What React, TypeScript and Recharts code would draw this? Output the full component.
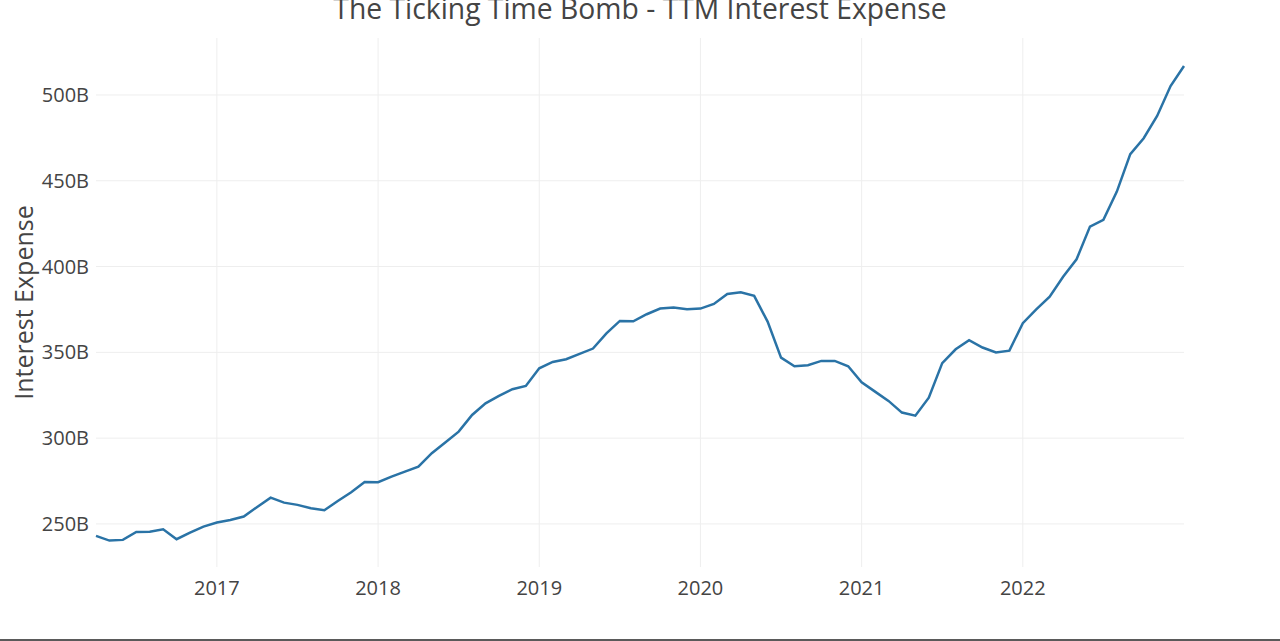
import { LineChart, Line, XAxis, YAxis, ReferenceLine } from 'recharts'

// TTM interest expense, billions of USD, monthly from Apr 2016 to Jan 2023
const dates = [
  '2016-04', '2016-05', '2016-06', '2016-07', '2016-08', '2016-09', '2016-10', '2016-11', '2016-12',
  '2017-01', '2017-02', '2017-03', '2017-04', '2017-05', '2017-06', '2017-07', '2017-08', '2017-09', '2017-10', '2017-11', '2017-12',
  '2018-01', '2018-02', '2018-03', '2018-04', '2018-05', '2018-06', '2018-07', '2018-08', '2018-09', '2018-10', '2018-11', '2018-12',
  '2019-01', '2019-02', '2019-03', '2019-04', '2019-05', '2019-06', '2019-07', '2019-08', '2019-09', '2019-10', '2019-11', '2019-12',
  '2020-01', '2020-02', '2020-03', '2020-04', '2020-05', '2020-06', '2020-07', '2020-08', '2020-09', '2020-10', '2020-11', '2020-12',
  '2021-01', '2021-02', '2021-03', '2021-04', '2021-05', '2021-06', '2021-07', '2021-08', '2021-09', '2021-10', '2021-11', '2021-12',
  '2022-01', '2022-02', '2022-03', '2022-04', '2022-05', '2022-06', '2022-07', '2022-08', '2022-09', '2022-10', '2022-11', '2022-12',
  '2023-01',
]

const interestExpense = [
  243.0, 240.3, 240.7, 245.3, 245.5, 246.9, 241.1, 244.9, 248.4,
  250.8, 252.3, 254.3, 259.9, 265.3, 262.4, 261.1, 259.1, 258.0, 263.4, 268.5, 274.5,
  274.3, 277.6, 280.5, 283.4, 291.2, 297.4, 303.8, 313.5, 320.3, 324.6, 328.5, 330.4,
  340.7, 344.4, 346.0, 349.1, 352.2, 361.1, 368.3, 368.1, 372.2, 375.5, 376.1, 375.1,
  375.5, 378.2, 384.0, 385.0, 382.9, 367.9, 346.9, 341.9, 342.5, 345.0, 345.0, 341.9,
  332.6, 327.1, 321.7, 314.9, 313.1, 323.6, 343.7, 351.8, 357.1, 352.8, 349.9, 351.0,
  367.0, 375.1, 382.5, 394.1, 404.2, 423.3, 427.2, 443.7, 465.5, 474.8, 487.8, 505.2,
  516.9,
]

const yearTicks = [2017, 2018, 2019, 2020, 2021, 2022]
const valueTicks = [250, 300, 350, 400, 450, 500]

const toYear = (d: string) => {
  const [y, m] = d.split('-').map(Number)
  return y + (m - 1) / 12
}

const data = dates.map((d, i) => ({ t: toYear(d), value: interestExpense[i] }))

const FONT = '"Open Sans", sans-serif'
const TEXT = '#444'
const GRID = '#eee'

export default function App() {
  return (
    <div
      style={{
        position: 'absolute',
        left: 0,
        top: 0,
        width: 1280,
        height: 641,
        background: '#fff',
        overflow: 'hidden',
        fontFamily: FONT,
      }}
    >
      <LineChart width={1280} height={641} data={data} margin={{ top: 38, right: 96, bottom: 0, left: 0 }}>
        <XAxis
          dataKey="t"
          type="number"
          domain={[2016.25, 2023]}
          ticks={yearTicks}
          tickFormatter={(v) => String(v)}
          axisLine={false}
          tickLine={false}
          tickMargin={8}
          height={74}
          tick={{ fill: TEXT, fontSize: 20, fontFamily: FONT }}
        />
        <YAxis
          type="number"
          domain={[224.9, 533.2]}
          ticks={valueTicks}
          tickFormatter={(v) => `${v}B`}
          axisLine={false}
          tickLine={false}
          tickMargin={1}
          width={96}
          tick={{ fill: TEXT, fontSize: 20, fontFamily: FONT }}
        />
        {/* gridlines only at the ticks, no frame round the plot */}
        {valueTicks.map((v) => (
          <ReferenceLine key={`y${v}`} y={v} stroke={GRID} strokeWidth={1} />
        ))}
        {yearTicks.map((v) => (
          <ReferenceLine key={`x${v}`} x={v} stroke={GRID} strokeWidth={1} />
        ))}
        <Line
          type="linear"
          dataKey="value"
          stroke="#2a73a6"
          strokeWidth={2.5}
          dot={false}
          isAnimationActive={false}
        />
      </LineChart>
      <svg width={1280} height={641} style={{ position: 'absolute', left: 0, top: 0, pointerEvents: 'none' }}>
        <text x={640} y={18.5} textAnchor="middle" fontSize={28.3} fill={TEXT} fontFamily={FONT}>
          The Ticking Time Bomb - TTM Interest Expense
        </text>
        <text
          transform="translate(33,302.5) rotate(-90)"
          textAnchor="middle"
          fontSize={25}
          fill={TEXT}
          fontFamily={FONT}
        >
          Interest Expense
        </text>
      </svg>
      <div style={{ position: 'absolute', left: 0, top: 639, width: 1280, height: 2, background: '#5a5a5a' }} />
    </div>
  )
}
